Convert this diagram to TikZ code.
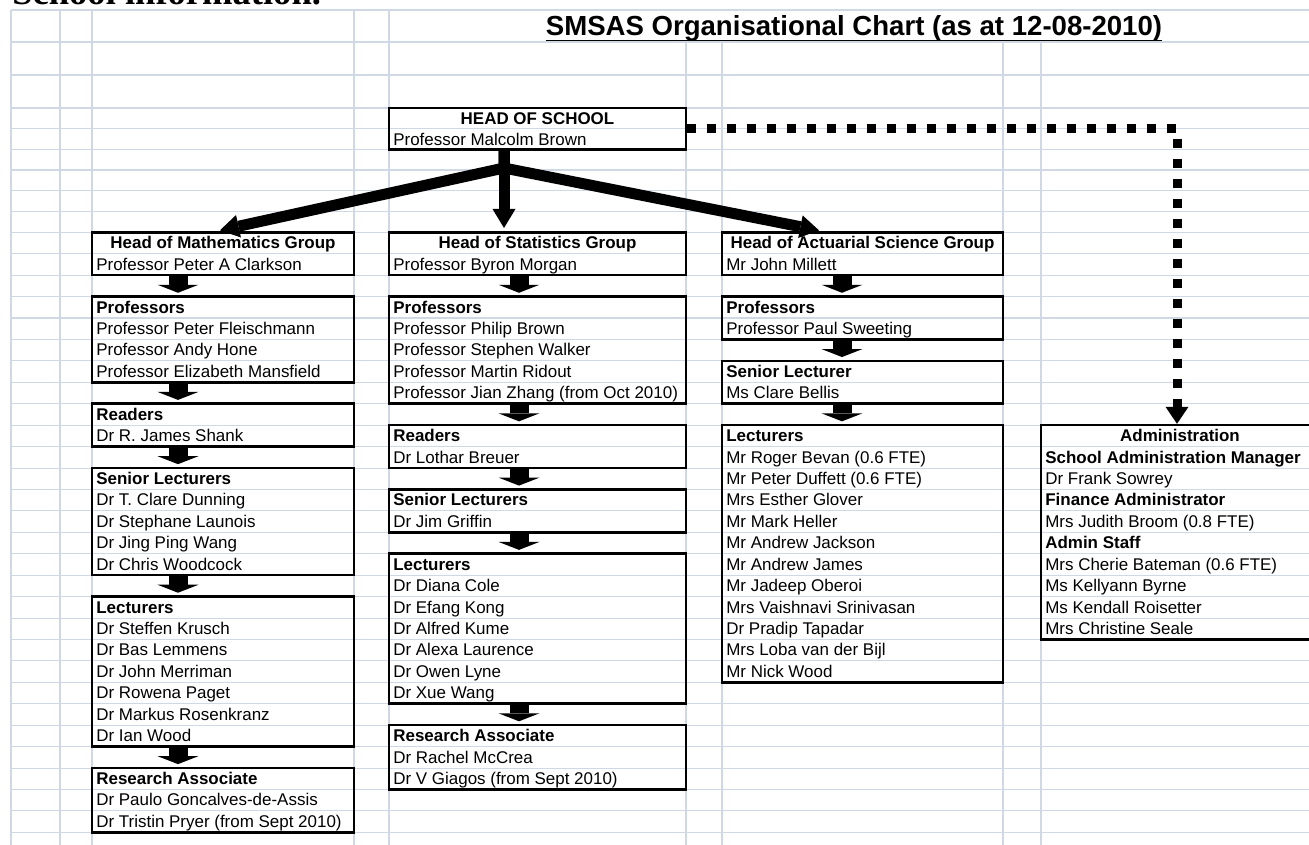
\documentclass[tikz,border=0pt]{standalone}
\usepackage{fontspec}
\setmainfont{Liberation Sans}
\newfontfamily\headserif{Liberation Serif}
\usetikzlibrary{arrows.meta,fit}
\definecolor{gridc}{RGB}{208,215,229}
\newcommand\chartfont{\fontsize{9.65pt}{11.6pt}\selectfont}

\begin{document}
\begin{tikzpicture}[x=0.02cm, y=-0.02cm,
  gridline/.style={draw=gridc, line width=0.6pt},
  box/.style={draw=black, line width=1.5pt, inner sep=0pt},
  txt/.style={anchor=base west, inner sep=0pt, font=\chartfont},
  sub/.style={txt, font=\chartfont\bfseries},
  hd/.style={anchor=base, inner sep=0pt, font=\chartfont\bfseries},
  blk/.style={line width=0.38cm, -{Triangle[width=0.82cm,length=0.16cm,line width=0pt]}, shorten >=0.05cm},
  bigarrow/.style={line width=0.22cm, -{Triangle[width=0.46cm,length=0.38cm,line width=0pt]}, shorten >=0.06cm},
  dotline/.style={line width=0.18cm, dash pattern=on 0.18cm off 0.22cm, -{Triangle[width=0.46cm,length=0.34cm,line width=0pt]}}]

  % Page in pixels (1309 x 845), y downward
  \useasboundingbox (0,0) rectangle (1309,845);
  \clip (0,0) rectangle (1309,845);

  % Sheet grid
  %  rows above the chart : 10, 42, 75, 108 then 20.67 px steps
  %  rows from y = 232.3  : 21.43 px steps
  \foreach \y in {10, 42, 75, 108, 128.7, 149.3, 170, 190.7, 211.3} {
    \draw[gridline] (11,\y) -- (1309,\y);
  }
  \foreach \k in {0,...,28} {
    \draw[gridline] (11,{232.3+21.43*\k}) -- (1309,{232.3+21.43*\k});
  }
  \foreach \x in {11, 60, 92, 354, 389} {
    \draw[gridline] (\x,10) -- (\x,845);
  }
  \foreach \x in {686, 722, 1003, 1041} {
    \draw[gridline] (\x,42) -- (\x,845);
  }

  % Sheet heading (cut off at the top edge) and title
  \node[anchor=base west, inner sep=0pt, font=\headserif\fontsize{20.8pt}{24pt}\selectfont\bfseries] (sheet) at (12,5) {School information.};
  \node[anchor=base, inner sep=0pt, font=\fontsize{15.7pt}{18pt}\selectfont\bfseries] (title) at (854,35.5) {SMSAS Organisational Chart (as at 12-08-2010)};
  \draw[line width=0.04cm] ([yshift=-0.1cm]title.base west) -- ([yshift=-0.1cm]title.base east);

  % Head of school: x 389-686, y 108-149.3
  \node[box, fit={(389,108) (686,149.3)}] (hos) {};
  \node[hd]  (hos-t) at (537.5,124.5) {HEAD OF SCHOOL};
  \node[txt] (hos-1) at (393,145) {Professor Malcolm Brown};

  % Group columns, rows counted from y = 232.3 (one unit = one row)
  \begin{scope}[shift={(0,232.3)}, y=-0.4286cm]

    % Mathematics: x 92-354, arrows at 178
    \coordinate (mx) at (178,0);
    \coordinate (mtip) at (217,0);
    \node[box, fit={(92,0) (354,2)}] (mhead) {};
    \node[hd]  (mhead-t) at (223,0.77) {Head of Mathematics Group};
    \node[txt] (mhead-1) at (96,1.77) {Professor Peter A Clarkson};

    \node[box, fit={(92,3) (354,7)}] (mprof) {};
    \node[sub] (mprof-t) at (96,3.77) {Professors};
    \foreach \n [count=\i] in {Professor Peter Fleischmann, Professor Andy Hone, Professor Elizabeth Mansfield}
      \node[txt] (mprof-\i) at (96,{3.77+\i}) {\n};

    \node[box, fit={(92,8) (354,10)}] (mread) {};
    \node[sub] (mread-t) at (96,8.77) {Readers};
    \node[txt] (mread-1) at (96,9.77) {Dr R. James Shank};

    \node[box, fit={(92,11) (354,16)}] (msen) {};
    \node[sub] (msen-t) at (96,11.77) {Senior Lecturers};
    \foreach \n [count=\i] in {Dr T. Clare Dunning, Dr Stephane Launois, Dr Jing Ping Wang, Dr Chris Woodcock}
      \node[txt] (msen-\i) at (96,{11.77+\i}) {\n};

    \node[box, fit={(92,17) (354,24)}] (mlec) {};
    \node[sub] (mlec-t) at (96,17.77) {Lecturers};
    \foreach \n [count=\i] in {Dr Steffen Krusch, Dr Bas Lemmens, Dr John Merriman, Dr Rowena Paget, Dr Markus Rosenkranz, Dr Ian Wood}
      \node[txt] (mlec-\i) at (96,{17.77+\i}) {\n};

    \node[box, fit={(92,25) (354,28)}] (mra) {};
    \node[sub] (mra-t) at (96,25.77) {Research Associate};
    \foreach \n [count=\i] in {Dr Paulo Goncalves-de-Assis, {Dr Tristin Pryer (from Sept 2010)}}
      \node[txt] (mra-\i) at (96,{25.77+\i}) {\n};

    % Statistics: x 389-686, arrows at 519
    \coordinate (sx) at (519,0);
    \node[box, fit={(389,0) (686,2)}] (shead) {};
    \node[hd]  (shead-t) at (537.5,0.77) {Head of Statistics Group};
    \node[txt] (shead-1) at (393,1.77) {Professor Byron Morgan};

    \node[box, fit={(389,3) (686,8)}] (sprof) {};
    \node[sub] (sprof-t) at (393,3.77) {Professors};
    \foreach \n [count=\i] in {Professor Philip Brown, Professor Stephen Walker, Professor Martin Ridout, {Professor Jian Zhang (from Oct 2010)}}
      \node[txt] (sprof-\i) at (393,{3.77+\i}) {\n};

    \node[box, fit={(389,9) (686,11)}] (sread) {};
    \node[sub] (sread-t) at (393,9.77) {Readers};
    \node[txt] (sread-1) at (393,10.77) {Dr Lothar Breuer};

    \node[box, fit={(389,12) (686,14)}] (ssen) {};
    \node[sub] (ssen-t) at (393,12.77) {Senior Lecturers};
    \node[txt] (ssen-1) at (393,13.77) {Dr Jim Griffin};

    \node[box, fit={(389,15) (686,22)}] (slec) {};
    \node[sub] (slec-t) at (393,15.77) {Lecturers};
    \foreach \n [count=\i] in {Dr Diana Cole, Dr Efang Kong, Dr Alfred Kume, Dr Alexa Laurence, Dr Owen Lyne, Dr Xue Wang}
      \node[txt] (slec-\i) at (393,{15.77+\i}) {\n};

    \node[box, fit={(389,23) (686,26)}] (sra) {};
    \node[sub] (sra-t) at (393,23.77) {Research Associate};
    \foreach \n [count=\i] in {Dr Rachel McCrea, {Dr V Giagos (from Sept 2010)}}
      \node[txt] (sra-\i) at (393,{23.77+\i}) {\n};

    % Actuarial science: x 722-1003, arrows at 842
    \coordinate (ax) at (842,0);
    \coordinate (atip) at (822,0);
    \node[box, fit={(722,0) (1003,2)}] (ahead) {};
    \node[hd]  (ahead-t) at (862.5,0.77) {Head of Actuarial Science Group};
    \node[txt] (ahead-1) at (726,1.77) {Mr John Millett};

    \node[box, fit={(722,3) (1003,5)}] (aprof) {};
    \node[sub] (aprof-t) at (726,3.77) {Professors};
    \node[txt] (aprof-1) at (726,4.77) {Professor Paul Sweeting};

    \node[box, fit={(722,6) (1003,8)}] (asen) {};
    \node[sub] (asen-t) at (726,6.77) {Senior Lecturer};
    \node[txt] (asen-1) at (726,7.77) {Ms Clare Bellis};

    \node[box, fit={(722,9) (1003,21)}] (alec) {};
    \node[sub] (alec-t) at (726,9.77) {Lecturers};
    \foreach \n [count=\i] in {{Mr Roger Bevan (0.6 FTE)}, {Mr Peter Duffett (0.6 FTE)}, Mrs Esther Glover, Mr Mark Heller, Mr Andrew Jackson, Mr Andrew James, Mr Jadeep Oberoi, Mrs Vaishnavi Srinivasan, Dr Pradip Tapadar, Mrs Loba van der Bijl, Mr Nick Wood}
      \node[txt] (alec-\i) at (726,{9.77+\i}) {\n};

    % Administration: x 1041-1319 (runs off the page)
    \coordinate (dx) at (1177,0);
    \node[box, fit={(1041,9) (1319,19)}] (admin) {};
    \node[hd] (admin-t) at (1180,9.77) {Administration};
    \foreach \n/\s [count=\i] in {School Administration Manager/sub, Dr Frank Sowrey/txt, Finance Administrator/sub, {Mrs Judith Broom (0.8 FTE)}/txt, Admin Staff/sub, {Mrs Cherie Bateman (0.6 FTE)}/txt, Ms Kellyann Byrne/txt, Ms Kendall Roisetter/txt, Mrs Christine Seale/txt}
      \node[\s] (admin-\i) at (1045,{9.77+\i}) {\n};

  \end{scope}

  % Block arrows between the boxes of each column
  \draw[blk] (mhead.south -| mx) -- (mprof.north -| mx);
  \draw[blk] (mprof.south -| mx) -- (mread.north -| mx);
  \draw[blk] (mread.south -| mx) -- (msen.north -| mx);
  \draw[blk] (msen.south -| mx) -- (mlec.north -| mx);
  \draw[blk] (mlec.south -| mx) -- (mra.north -| mx);

  \draw[blk] (shead.south -| sx) -- (sprof.north -| sx);
  \draw[blk] (sprof.south -| sx) -- (sread.north -| sx);
  \draw[blk] (sread.south -| sx) -- (ssen.north -| sx);
  \draw[blk] (ssen.south -| sx) -- (slec.north -| sx);
  \draw[blk] (slec.south -| sx) -- (sra.north -| sx);

  \draw[blk] (ahead.south -| ax) -- (aprof.north -| ax);
  \draw[blk] (aprof.south -| ax) -- (asen.north -| ax);
  \draw[blk] (asen.south -| ax) -- (alec.north -| ax);

  % Head of school to the three groups
  \coordinate (hj) at (504,168);
  \draw[bigarrow] (hos.south -| hj) -- (hj) -- (mhead.north -| mtip);
  \draw[bigarrow] (hos.south -| hj) -- (shead.north -| hj);
  \draw[bigarrow] (hos.south -| hj) -- (hj) -- (ahead.north -| atip);

  % Dotted link to administration
  \draw[dotline] (hos.east) -- (hos.east -| dx) -- (admin.north -| dx);

\end{tikzpicture}
\end{document}
